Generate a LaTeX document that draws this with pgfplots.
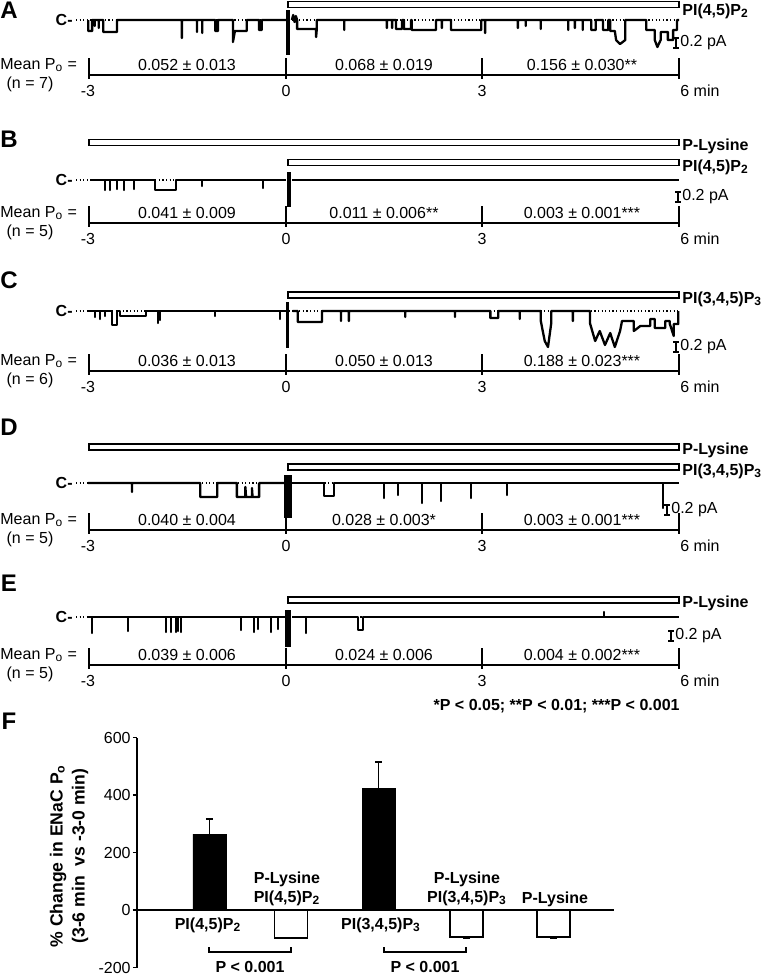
\documentclass[border=0pt]{standalone}
\usepackage{fontspec}
\setmainfont{Liberation Sans}
\usepackage{pgfplots}
\pgfplotsset{compat=1.18}

\pgfplotsset{
  trace/.style={hide axis, x=32.75pt, y=0.5pt, xmin=-3.05, xmax=6.02,
    ymin=-45, ymax=15, clip=false, anchor=origin},
  sig/.style={black, line width=1.15pt, line join=round},
  art/.style={black, line width=1.8pt},
}
\tikzset{
  fs/.style={font=\fontsize{8}{9.6}\selectfont},
  fb/.style={font=\fontsize{8}{9.6}\selectfont\bfseries},
  lett/.style={font=\fontsize{12}{14}\selectfont\bfseries},
  appbar/.style={draw=black, fill=white, line width=0.8pt},
}
% time axis + Po values under each trace
\newcommand\timeblock[5]{%
  \node[fs, anchor=west, inner sep=0] at (0,#1) {Mean P\textsubscript{o} =};
  \node[fs, inner sep=0] at (30,#1+19) {(n = #5)};
  \draw[line width=0.75pt] (89,#1+10) -- (679,#1+10);
  \foreach \xx in {89,286,482,679} \draw[line width=0.75pt] (\xx,#1-7) -- (\xx,#1+14);
  \node[fs, inner sep=0] at (88,#1+26) {-3};
  \node[fs, inner sep=0] at (286,#1+26) {0};
  \node[fs, inner sep=0] at (482,#1+26) {3};
  \node[fs, anchor=west, inner sep=0] at (680,#1+26) {6 min};
  \node[fs, inner sep=0] at (187,#1) {#2};
  \node[fs, inner sep=0] at (384,#1) {#3};
  \node[fs, inner sep=0] at (582,#1) {#4};
}
\newcommand\scalebar[2]{%
  \draw[line width=1pt] (#1,#2-5) -- (#1,#2+5)
    (#1-3,#2-5) -- (#1+3,#2-5) (#1-3,#2+5) -- (#1+3,#2+5);
  \node[fs, anchor=west, inner sep=0] at (#1+4,#2) {0.2 pA};
}
\newcommand\closed[1]{%
  \node[fb, anchor=east, inner sep=0] at (73,#1) {C-};
  \draw[dash pattern=on 0.6pt off 1.2pt, line width=0.6pt] (76,#1) -- (679,#1);
}

\begin{document}
\begin{tikzpicture}[x=0.5pt,y=-0.5pt]
\path[use as bounding box] (0,0) rectangle (763,976);

% ---------------- A
\node[lett] at (9,10) {A};
\draw[appbar] (288,1.5) rectangle (679,7.5);
\node[fb, anchor=base west, inner sep=0] at (682,15) {PI(4,5)P\textsubscript{2}};
\closed{20}
\begin{axis}[trace, at={(143pt,-10pt)}]
\addplot[sig] coordinates {(-3.02,0)(-3.02,-11)(-2.96,-11)(-2.96,0)(-2.92,0)(-2.92,-6)(-2.92,0)
 (-2.86,0)(-2.86,-8)(-2.86,0)(-2.79,0)(-2.79,-12)(-2.58,-12)(-2.58,0)(-1.59,0)(-1.59,-18)(-1.59,0)
 (-1.36,0)(-1.36,-12)(-1.36,0)(-1.28,0)(-1.28,-13)(-1.28,0)(-1.08,0)(-1.08,-11)(-1.04,-11)(-1.04,0)
 (-0.81,0)(-0.81,-22)(-0.78,-11)(-0.60,-11)(-0.60,0)(-0.41,0)(-0.41,-10)(-0.37,-10)(-0.37,0)(0,0)};
\addplot[sig] coordinates {(0.09,0)(0.11,5)(0.13,-2)(0.15,4)(0.17,0)(0.17,-9)(0.46,-9)(0.46,-17)(0.47,-9)
 (0.47,0)(0.89,0)(0.89,-10)(0.89,0)(1.54,0)(1.54,-8)(1.54,0)(1.62,0)(1.62,-8)(1.62,0)(1.68,0)(1.68,-9)
 (1.77,-9)(1.77,0)(1.80,0)(1.80,-9)(1.91,-9)(1.91,0)(1.92,0)(1.92,-10)(2.29,-10)(2.29,0)(2.38,0)(2.38,-8)
 (2.38,0)(2.52,0)(2.52,-10)(2.98,-10)(2.98,0)(3.04,0)(3.04,-13)(3.04,0)(3.54,0)(3.54,-8)(3.54,0)(3.66,0)
 (3.66,-6)(3.66,0)(3.89,0)(3.89,-9)(3.89,0)(4.31,0)(4.31,-10)(4.31,0)(4.41,0)(4.41,-8)(4.41,0)(4.53,0)
 (4.53,-10)(4.53,0)(4.66,0)(4.66,-10)(4.73,-10)(4.73,0)(4.84,0)(4.84,-10)(4.92,-10)(4.92,0)(4.95,0)
 (4.95,-11)(5.02,-11)(5.04,-20)(5.10,-24)(5.18,-20)(5.18,0)(5.50,0)(5.50,-10)(5.63,-10)(5.63,-20)
 (5.67,-27)(5.72,-20)(5.72,-12)(5.83,-12)(5.83,-20)(5.91,-20)(5.91,-10)(5.97,-10)(5.97,0)(6.0,0)};
\addplot[art] coordinates {(0.03,10)(0.03,-35)};
\end{axis}
\scalebar{676}{43}
\timeblock{65}{0.052 ± 0.013}{0.068 ± 0.019}{0.156 ± 0.030**}{7}

% ---------------- B
\node[lett] at (9,139) {B};
\draw[appbar] (89,139.5) rectangle (679,145.5);
\node[fb, anchor=base west, inner sep=0] at (682,150) {P-Lysine};
\draw[appbar] (288,159.5) rectangle (679,165.5);
\node[fb, anchor=base west, inner sep=0] at (682,171) {PI(4,5)P\textsubscript{2}};
\closed{180}
\begin{axis}[trace, at={(143pt,-90pt)}]
\addplot[sig] coordinates {(-2.99,0)(-2.76,0)(-2.76,-10)(-2.76,0)(-2.69,0)(-2.69,-10)(-2.69,0)
 (-2.58,0)(-2.58,-9)(-2.58,0)(-2.47,0)(-2.47,-10)(-2.47,0)(-2.32,0)(-2.32,-9)(-2.32,0)(-2.0,0)
 (-2.0,-10)(-1.68,-10)(-1.68,0)(-1.28,0)(-1.28,-6)(-1.28,0)(-0.35,0)(-0.35,-8)(-0.35,0)(0,0)};
\addplot[sig] coordinates {(0.1,0)(6.0,0)};
\addplot[art] coordinates {(0.05,8)(0.05,-27)};
\end{axis}
\scalebar{678}{197}
\timeblock{213}{0.041 ± 0.009}{0.011 ± 0.006**}{0.003 ± 0.001***}{5}

% ---------------- C
\node[lett] at (9,280) {C};
\draw[appbar] (288,292) rectangle (679,298);
\node[fb, anchor=base west, inner sep=0] at (682,303) {PI(3,4,5)P\textsubscript{3}};
\closed{311}
\begin{axis}[trace, at={(143pt,-155.5pt)}]
\addplot[sig] coordinates {(-3.02,0)(-2.92,0)(-2.92,-6)(-2.92,0)(-2.84,0)(-2.84,-8)(-2.84,0)
 (-2.76,0)(-2.76,-5)(-2.76,0)(-2.66,0)(-2.66,-14)(-2.58,-14)(-2.58,0)(-2.53,0)(-2.53,-5)(-2.14,-5)
 (-2.14,0)(-1.95,0)(-1.95,-12)(-1.95,0)(-1.92,0)(-1.92,-9)(-1.92,0)(-1.08,0)(-1.08,-5)(-1.08,0)
 (-0.09,0)(-0.09,-8)(-0.09,0)(0,0)};
\addplot[sig] coordinates {(0.1,0)(0.18,0)(0.18,-11)(0.55,-11)(0.55,0)(0.84,0)(0.84,-10)(0.84,0)
 (0.96,0)(0.96,-10)(0.96,0)(1.82,0)(1.82,-6)(1.82,0)(2.58,0)(2.58,-6)(2.58,0)(3.12,0)(3.12,-7)
 (3.24,-7)(3.24,0)(3.57,0)(3.57,-8)(3.57,0)(3.89,0)(3.89,-10)(3.95,-30)(4.0,-36)(4.05,-12)(4.05,0)
 (4.38,0)(4.38,-10)(4.38,0)(4.64,0)(4.64,-12)(4.72,-30)(4.79,-20)(4.87,-34)(4.95,-22)(5.02,-36)
 (5.10,-20)(5.13,-10)(5.31,-10)(5.31,-20)(5.41,-15)(5.56,-15)(5.56,-8)(5.63,-8)(5.63,-17)(5.79,-17)
 (5.79,-10)(5.86,-10)(5.86,-13)(5.92,-25)(5.92,-13)(5.99,-13)(5.99,0)};
\addplot[art] coordinates {(0.02,9)(0.02,-37)};
\end{axis}
\scalebar{676}{347}
\timeblock{361}{0.036 ± 0.013}{0.050 ± 0.013}{0.188 ± 0.023***}{6}

% ---------------- D
\node[lett] at (9,427) {D};
\draw[appbar] (89,444) rectangle (679,450);
\node[fb, anchor=base west, inner sep=0] at (682,454) {P-Lysine};
\draw[appbar] (288,464) rectangle (679,470);
\node[fb, anchor=base west, inner sep=0] at (682,475) {PI(3,4,5)P\textsubscript{3}};
\closed{483}
\begin{axis}[trace, at={(143pt,-241.5pt)}]
\addplot[sig] coordinates {(-3.02,0)(-2.35,0)(-2.35,-9)(-2.35,0)(-1.31,0)(-1.31,-14)(-1.05,-14)
 (-1.05,0)(-0.75,0)(-0.75,-14)(-0.62,-14)(-0.62,-4)(-0.61,-14)(-0.52,-14)(-0.52,-5)(-0.51,-14)
 (-0.41,-14)(-0.41,0)(0,0)};
\addplot[sig] coordinates {(0.1,0)(0.58,0)(0.58,-13)(0.73,-13)(0.73,0)(1.50,0)(1.50,-15)(1.50,0)
 (1.71,0)(1.71,-12)(1.71,0)(2.08,0)(2.08,-20)(2.08,0)(2.37,0)(2.37,-18)(2.37,0)(2.82,0)(2.82,-15)
 (2.82,0)(3.37,0)(3.37,-12)(3.37,0)(5.76,0)(5.76,-25)(5.76,0)(6.0,0)};
\addplot[art] coordinates {(0.0,8)(0.0,-35)};
\addplot[art] coordinates {(0.06,8)(0.06,-35)};
\end{axis}
\scalebar{667}{510}
\timeblock{520}{0.040 ± 0.004}{0.028 ± 0.003*}{0.003 ± 0.001***}{5}

% ---------------- E
\node[lett] at (9,583) {E};
\draw[appbar] (288,597) rectangle (679,603);
\node[fb, anchor=base west, inner sep=0] at (682,607) {P-Lysine};
\closed{617}
\begin{axis}[trace, at={(143pt,-308.5pt)}]
\addplot[sig] coordinates {(-3.02,0)(-2.96,0)(-2.96,-16)(-2.96,0)(-2.41,0)(-2.41,-14)(-2.41,0)
 (-1.83,0)(-1.83,-15)(-1.83,0)(-1.76,0)(-1.76,-15)(-1.76,0)(-1.68,0)(-1.68,-15)(-1.68,0)(-1.65,0)
 (-1.65,-14)(-1.65,0)(-1.60,0)(-1.60,-15)(-1.60,0)(-0.69,0)(-0.69,-13)(-0.69,0)(-0.49,0)(-0.49,-15)
 (-0.49,0)(-0.43,0)(-0.43,-12)(-0.43,0)(-0.23,0)(-0.23,-15)(-0.23,0)(-0.12,0)(-0.12,-12)(-0.12,0)(0,0)};
\addplot[sig] coordinates {(0.1,0)(0.31,0)(0.31,-16)(0.31,0)(1.10,0)(1.10,-13)(1.18,-13)(1.18,0)
 (4.86,0)(4.86,5)(4.86,0)(6.0,0)};
\addplot[sig] coordinates {(0.0,7)(0.0,-30)};
\addplot[sig] coordinates {(0.03,7)(0.03,-30)};
\addplot[sig] coordinates {(0.06,7)(0.06,-30)};
\end{axis}
\scalebar{671}{636}
\timeblock{655}{0.039 ± 0.006}{0.024 ± 0.006}{0.004 ± 0.002***}{5}

\node[fb, anchor=base east, inner sep=0] at (680,710) {*P < 0.05; **P < 0.01; ***P < 0.001};

% ---------------- F
\node[lett] at (9,721) {F};
\begin{axis}[
  at={(68.5pt,-455pt)}, anchor=origin,
  x=0.5pt, y=0.14375pt,
  xmin=0, xmax=477, ymin=-200, ymax=600,
  axis x line=none, axis y line=left,
  axis line style={-, line width=0.7pt},
  ytick={-200,0,200,400,600},
  yticklabels={-200,0,200,400,600},
  tick align=outside, major tick length=2pt,
  tick style={line width=0.7pt, black},
  yticklabel style={fs, inner sep=1pt},
  clip=false,
]
\addplot[ybar, bar width=16.5pt, bar shift=0pt, fill=black, draw=black,
  error bars/.cd, y dir=plus, y explicit,
  error bar style={line width=0.7pt},
  error mark options={rotate=90, mark size=1.75pt, line width=0.7pt}]
  coordinates {(72.5,264) +- (0,52) (241.5,424) +- (0,91)};
\addplot[ybar, bar width=16.5pt, bar shift=0pt, fill=white, draw=black, line width=0.7pt,
  error bars/.cd, y dir=minus, y explicit,
  error bar style={line width=0.7pt},
  error mark options={rotate=90, mark size=1.75pt, line width=0.7pt}]
  coordinates {(154,-97) +- (0,3) (329.5,-94) +- (0,4) (416.5,-94) +- (0,4)};
\draw[line width=0.7pt] (axis cs:0,0) -- (axis cs:477,0);
\end{axis}
\node[rotate=90, align=center, font=\fontsize{8.8}{11}\selectfont\bfseries] at (69,856)
  {\% Change in ENaC P\textsubscript{o}\\(3-6 min\ \ vs -3-0 min)};
\node[fb, anchor=base, inner sep=0] at (208,929) {PI(4,5)P\textsubscript{2}};
\node[fb, anchor=base, inner sep=0] at (287,883) {P-Lysine};
\node[fb, anchor=base, inner sep=0] at (287,902) {PI(4,5)P\textsubscript{2}};
\node[fb, anchor=base, inner sep=0] at (381,929) {PI(3,4,5)P\textsubscript{3}};
\node[fb, anchor=base, inner sep=0] at (467,883) {P-Lysine};
\node[fb, anchor=base, inner sep=0] at (467,902) {PI(3,4,5)P\textsubscript{3}};
\node[fb, anchor=base, inner sep=0] at (555,903) {P-Lysine};
\draw[line width=0.7pt] (209,947) -- (209,952) -- (291,952) -- (291,947);
\draw[line width=0.7pt] (384,947) -- (384,952) -- (466,952) -- (466,947);
\node[fb, anchor=base, inner sep=0] at (250,972) {P < 0.001};
\node[fb, anchor=base, inner sep=0] at (425,972) {P < 0.001};
\end{tikzpicture}
\end{document}
